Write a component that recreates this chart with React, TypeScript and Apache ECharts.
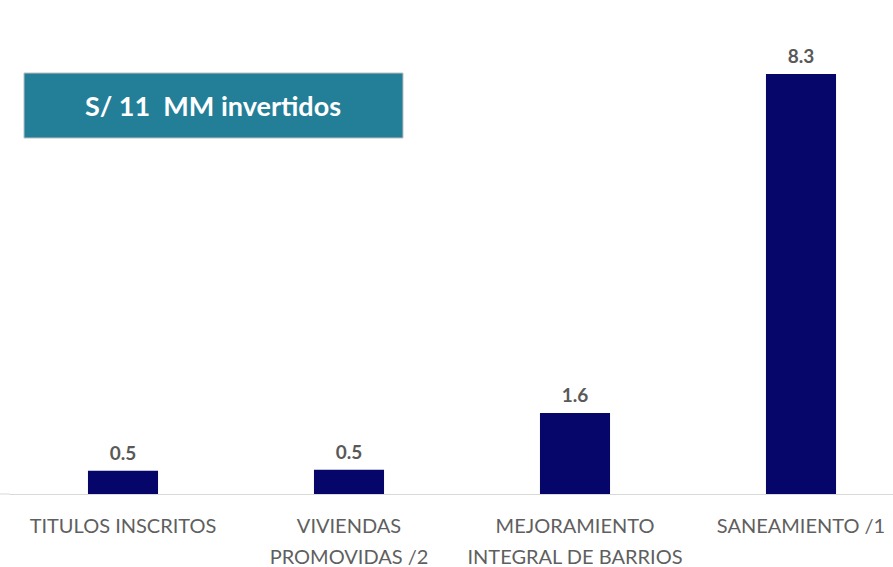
import React, { useEffect, useRef } from "react";
import * as echarts from "echarts";

const categories = [
  "TITULOS INSCRITOS",
  "VIVIENDAS\nPROMOVIDAS /2",
  "MEJORAMIENTO\nINTEGRAL DE BARRIOS",
  "SANEAMIENTO /1",
];
const values = [0.46, 0.48, 1.6, 8.3];
const boxTitle = "S/ 11  MM invertidos";

export default function App() {
  const ref = useRef<HTMLDivElement>(null);
  useEffect(() => {
    if (!ref.current) return;
    const chart = echarts.init(ref.current, null, { renderer: "svg" });
    chart.setOption({
      animation: false,
      backgroundColor: "#ffffff",
      grid: {
        left: 10,
        right: 0,
        top: 74,
        bottom: 73,
        outerBoundsMode: "none",
        containLabel: false,
      },
      xAxis: {
        type: "category",
        data: categories,
        axisLine: { lineStyle: { color: "#d9d9d9", width: 1 } },
        axisTick: { show: false },
        axisLabel: {
          color: "#5f5f5f",
          fontFamily: "Lato",
          fontSize: 20,
          lineHeight: 31,
          margin: 15,
          interval: 0,
        },
      },
      yAxis: {
        type: "value",
        min: 0,
        max: 8.3,
        show: false,
        splitLine: { show: false },
      },
      series: [
        {
          type: "bar",
          data: values,
          barWidth: "31%",
          itemStyle: { color: "#06066a" },
          label: {
            show: true,
            position: "top",
            distance: 9,
            color: "#595959",
            fontFamily: "Lato",
            fontWeight: "bold",
            fontSize: 19,
            formatter: (p: any) => Number(p.value).toFixed(1),
          },
        },
      ],
      graphic: [
        {
          type: "line",
          shape: { x1: 0, y1: 494, x2: 10, y2: 494 },
          style: { stroke: "#d9d9d9", lineWidth: 1 },
        },
        {
          type: "rect",
          shape: { x: 24, y: 73, width: 379, height: 65 },
          style: { fill: "#237e98", stroke: "#bfbfbf", lineWidth: 1 },
        },
        {
          type: "text",
          x: 213,
          y: 105,
          style: {
            text: boxTitle,
            fill: "#ffffff",
            font: "bold 27px Lato",
            align: "center",
            verticalAlign: "middle",
          },
        },
      ],
    });
    return () => chart.dispose();
  }, []);
  return (
    <div
      ref={ref}
      style={{ position: "fixed", left: 0, top: 0, width: 914, height: 567 }}
    />
  );
}
